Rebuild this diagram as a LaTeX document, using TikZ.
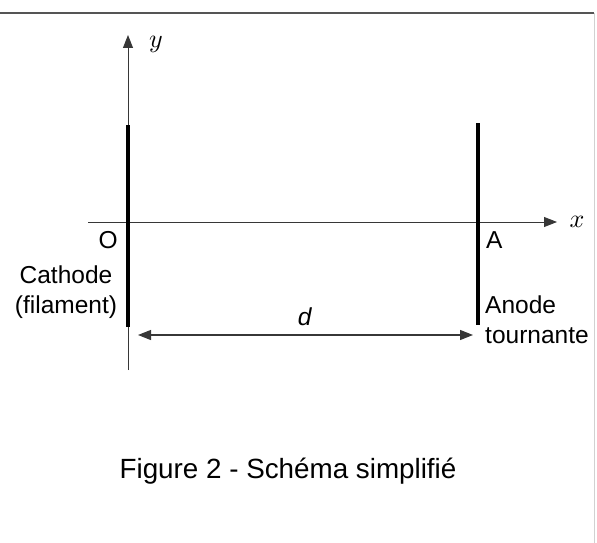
\documentclass[tikz,border=0pt]{standalone}
\usepackage{fontspec}
\setmainfont{Liberation Sans}
\usetikzlibrary{arrows.meta,positioning}
\definecolor{Axis}{RGB}{55,55,55}
\definecolor{Frame}{RGB}{85,85,85}

\begin{document}
\begin{tikzpicture}[x=1pt,y=-1pt,
  axis/.style={Axis,line width=0.9pt,-{Triangle[length=13pt,width=10pt]}},
  plate/.style={black,line width=4pt},
  lbl/.style={font=\fontsize{24.5}{30}\selectfont,inner sep=0pt}]
  \useasboundingbox (0,0) rectangle (597,543);
  \draw[Frame,line width=1.5pt] (0,13) -- (594,13);
  \draw[black!18,line width=1pt] (594,13) -- (594,543);
  % axes
  \coordinate (O) at (128,222);
  \coordinate (A) at (478,222);
  \coordinate (xs) at (88,222);
  \coordinate (xe) at (557,222);
  \coordinate (ys) at (128,370);
  \coordinate (ye) at (128,35);
  \draw[axis] (xs) -- (xe);
  \draw[axis] (ys) -- (ye);
  \node[scale=2.6,inner sep=0pt,anchor=base] (xlab) at (577,227) {$x$};
  \node[scale=2.6,inner sep=0pt,anchor=base] (ylab) at (156,48) {$y$};
  % plates
  \draw[plate] (128,125) -- (128,327);
  \draw[plate] (478,123) -- (478,325);
  \node[lbl,anchor=base east] (Olab) at (118,248) {O};
  \node[lbl,anchor=base west] (Alab) at (486,248) {A};
  \node[lbl,align=center,anchor=base] (cath) at (66,313) {Cathode\\(filament)};
  \node[lbl,align=left,anchor=base west] (anod) at (485,343) {Anode\\tournante};
  % distance d
  \coordinate (dl) at (138,335);
  \coordinate (dr) at (473,335);
  \draw[Axis,line width=1.1pt,{Triangle[length=13pt,width=10pt]}-{Triangle[length=13pt,width=10pt]}] (dl) -- (dr);
  \node[lbl,anchor=base] (dlab) at (305,325) {\textit{d}};
  \node[font=\fontsize{27.8}{30}\selectfont,inner sep=0pt,anchor=base] (caption) at (288,478) {Figure 2 - Schéma simplifié};
\end{tikzpicture}
\end{document}
